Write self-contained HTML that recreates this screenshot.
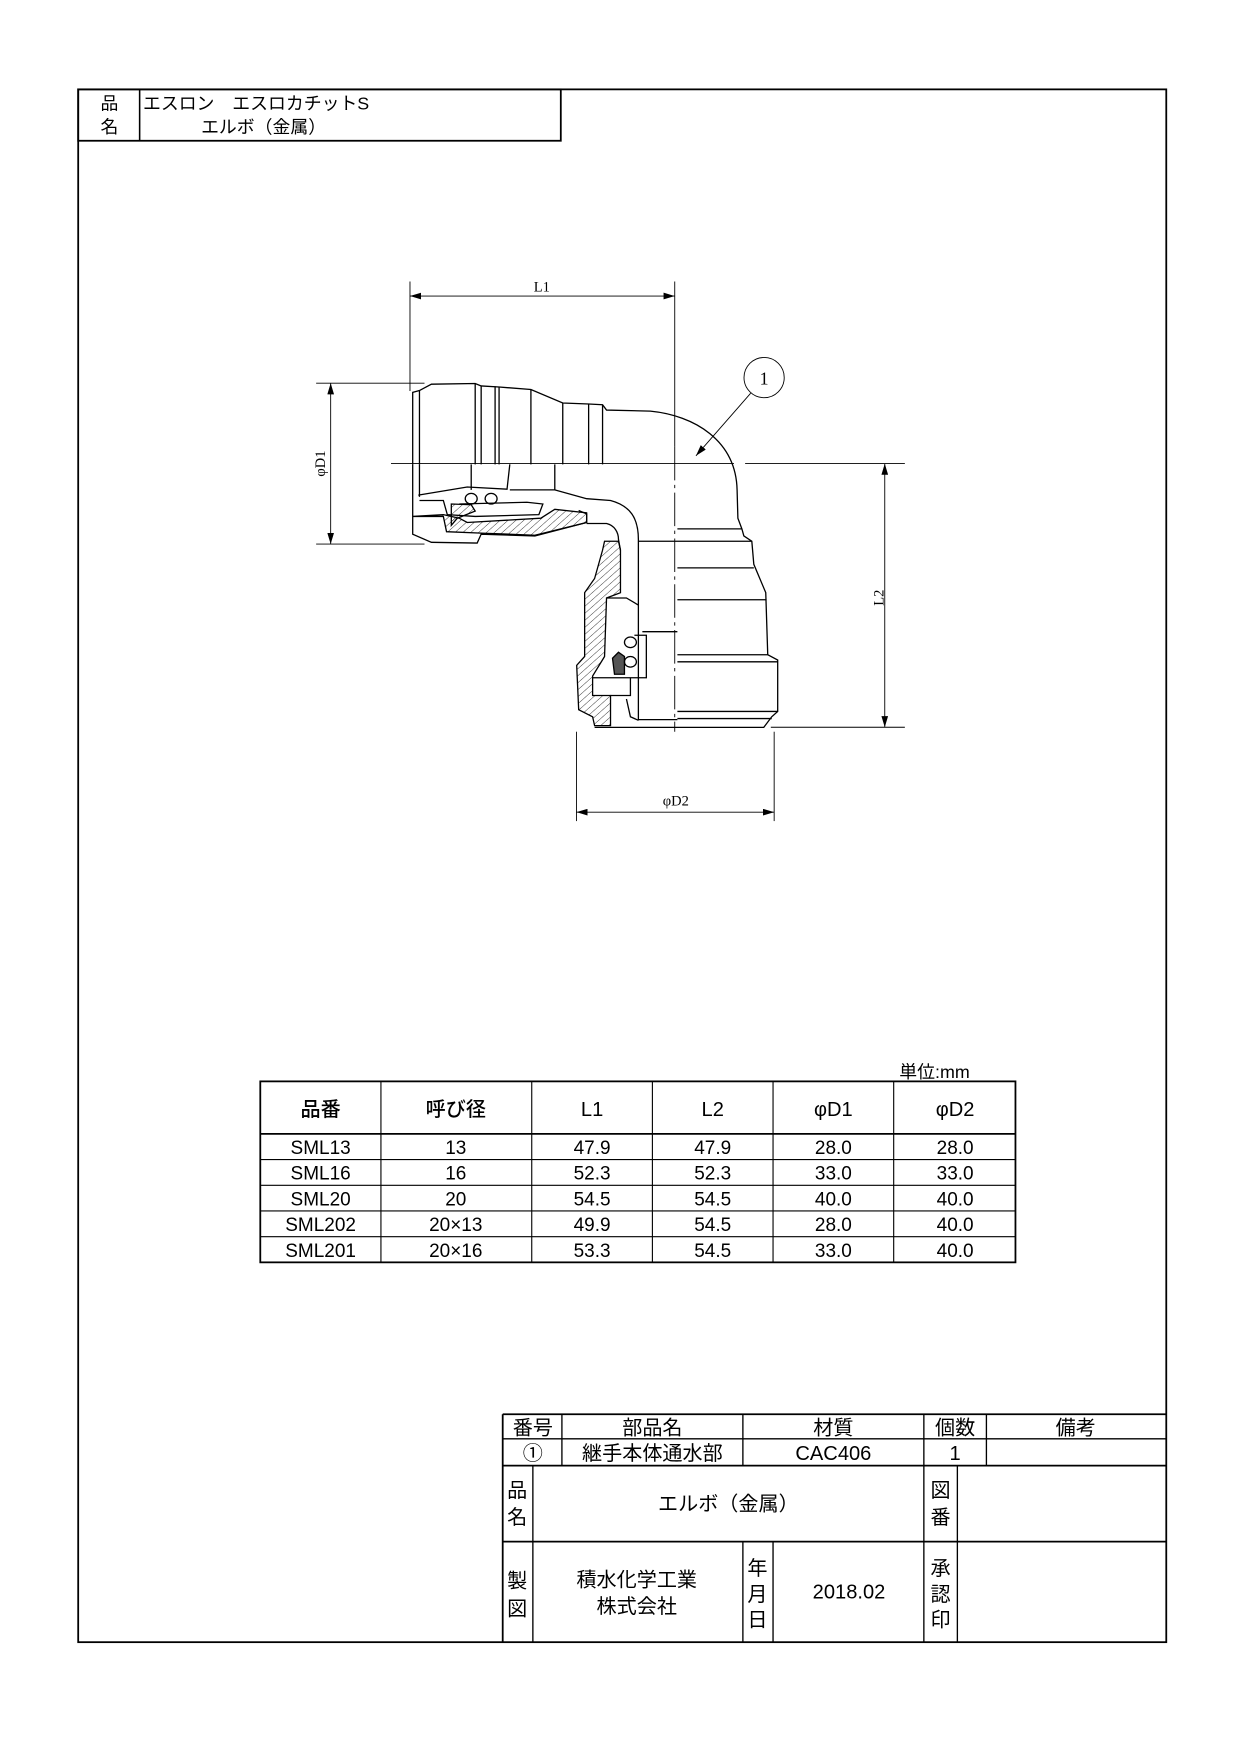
<!DOCTYPE html>
<html><head><meta charset="utf-8"><style>
html,body{margin:0;padding:0;background:#fff}
svg{display:block}
text{font-family:"Liberation Sans","Noto Sans CJK JP",sans-serif;fill:#000}
.s{font-family:"Liberation Serif","Noto Serif CJK SC",serif}
</style></head><body>
<svg width="1240" height="1755" viewBox="0 0 1110 1571" preserveAspectRatio="none" xmlns="http://www.w3.org/2000/svg">
<defs>
<pattern id="h" patternUnits="userSpaceOnUse" width="14" height="14" patternTransform="rotate(45)"><line x1="0" y1="0" x2="0" y2="14" stroke="#000" stroke-width="2"/></pattern>
<marker id="a" markerWidth="10" markerHeight="6" refX="10" refY="3" orient="auto-start-reverse" markerUnits="userSpaceOnUse"><path d="M0,0 L10,3 L0,6 z" fill="#000"/></marker>
</defs>
<rect x="0" y="0" width="1110" height="1571" fill="#fff"/>
<rect x="70" y="80" width="974" height="1390" fill="none" stroke="#000" stroke-width="1.6"/>
<rect x="70" y="80" width="432" height="46" fill="none" stroke="#000" stroke-width="1.6"/>
<line x1="125" y1="80" x2="125" y2="126" stroke="#000" stroke-width="1.4"/>
<text x="98" y="98" font-size="16" text-anchor="middle">品</text>
<text x="98" y="119" font-size="16" text-anchor="middle">名</text>
<text x="128" y="98" font-size="16">エスロン　エスロカチットS</text>
<text x="180" y="119" font-size="16">エルボ（金属）</text>

<g stroke="#000" stroke-width="0.8" fill="none">
<line x1="367" y1="252" x2="367" y2="350"/>
<line x1="604" y1="252" x2="604" y2="400"/>
<line x1="367" y1="265" x2="604" y2="265" marker-start="url(#a)" marker-end="url(#a)"/>
<line x1="283" y1="343" x2="380" y2="343"/>
<line x1="283" y1="487" x2="380" y2="487"/>
<line x1="296" y1="343" x2="296" y2="487" marker-start="url(#a)" marker-end="url(#a)"/>
<line x1="350" y1="415" x2="657" y2="415"/>
<line x1="667" y1="415" x2="810" y2="415"/>
<line x1="690" y1="651" x2="810" y2="651"/>
<line x1="792" y1="415" x2="792" y2="651" marker-start="url(#a)" marker-end="url(#a)"/>
<line x1="516" y1="655" x2="516" y2="735"/>
<line x1="693" y1="655" x2="693" y2="735"/>
<line x1="516" y1="727" x2="693" y2="727" marker-start="url(#a)" marker-end="url(#a)"/>
<circle cx="684" cy="338" r="18"/>
<line x1="672" y1="352" x2="623" y2="408" marker-end="url(#a)"/>
<line x1="604" y1="400" x2="604" y2="655" stroke-dasharray="30 4 3 4"/>
</g>
<text class="s" x="485" y="261" font-size="13" text-anchor="middle">L1</text>
<text class="s" x="0" y="0" font-size="13" text-anchor="middle" transform="translate(291,415) rotate(-90)">φD1</text>
<text class="s" x="0" y="0" font-size="13" text-anchor="middle" transform="translate(791,535) rotate(-90)">L2</text>
<text class="s" x="605" y="721" font-size="13" text-anchor="middle">φD2</text>
<text class="s" x="684" y="344" font-size="16" text-anchor="middle">1</text>

<g transform="translate(268.6,241.7) scale(0.3563,0.3174)" fill="none" stroke="#000" stroke-width="1.3">
<path vector-effect="non-scaling-stroke" d="M283,548 L283,345 L300,340 L330,322 L440,320 L455,327 L500,330 L580,337 L660,375 L725,378 L760,380 L770,395 L880,398 C990,410 1095,480 1098,620 L1100,700 L1110,730 L1115,750 L1135,765 L1140,830 L1170,910 L1175,1085 L1200,1100 L1200,1245 L1185,1260 L1165,1290 L740,1290"/>
<path vector-effect="non-scaling-stroke" d="M300,340V548 M440,320V548 M455,327V548 M490,328V548 M500,330V548 M580,337V548 M660,375V548 M725,378V548 M760,380V548"/>
<path vector-effect="non-scaling-stroke" d="M948,730H1110 M948,765H1135 M948,840H1140 M948,930H1172 M948,1085H1175 M948,1105H1200 M948,1245H1200 M948,1265H1185 M850,765H948 M860,1020H948 M850,1268H948"/>
<path vector-effect="non-scaling-stroke" d="M283,548 L283,745 L330,768 L445,770 L455,745 L590,750 L720,712 L720,688 L700,678"/>
<path vector-effect="non-scaling-stroke" d="M300,548 V640 M297,635 L420,612 L520,618 L527,548 M527,620 L640,620 L720,645 L780,650 C830,665 850,700 850,760 L850,1270 M720,715 L770,715 C790,720 800,740 800,760 L805,790"/>
<path vector-effect="non-scaling-stroke" d="M430,548V620 M640,548V620 M300,650 L360,650 L370,690 L440,695 L600,690 L610,660 L570,655 L400,660"/>
<path vector-effect="non-scaling-stroke" fill="url(#h)" d="M283,695 L360,695 L368,738 L455,742 L590,748 L720,712 L720,685 L640,675 L605,700 L420,712 L400,700 L360,690 Z"/>
<path vector-effect="non-scaling-stroke" fill="url(#h)" d="M380,660 L430,662 L440,680 L395,700 L380,720 Z"/>
<circle vector-effect="non-scaling-stroke" cx="430" cy="645" r="15"/>
<circle vector-effect="non-scaling-stroke" cx="480" cy="645" r="15"/>
<path vector-effect="non-scaling-stroke" fill="url(#h)" d="M765,765 L800,765 L805,790 L805,910 L770,925 L765,1090 L735,1145 L735,1200 L780,1200 L780,1285 L740,1285 L735,1260 L700,1240 L695,1115 L715,1090 L715,910 L740,870 L760,790 Z"/>
<path vector-effect="non-scaling-stroke" d="M770,925 L820,925 L850,945 M735,1150 L830,1150 L830,1200 L780,1200 M820,1210 L830,1260 L850,1270 M840,1030 L870,1030 L870,1150 L830,1150"/>
<path vector-effect="non-scaling-stroke" fill="#555" d="M785,1095 L800,1078 L815,1090 L815,1140 L790,1140 Z"/>
<circle vector-effect="non-scaling-stroke" cx="830" cy="1050" r="15"/>
<circle vector-effect="non-scaling-stroke" cx="830" cy="1105" r="15"/>
</g>

<text x="805" y="965" font-size="16">単位:mm</text>
<g stroke="#000" stroke-width="1.6" fill="none">
<rect x="233" y="968" width="676" height="162"/>
<line x1="233" y1="1015" x2="909" y2="1015"/>
</g>
<g stroke="#000" stroke-width="1" fill="none">
<line x1="233" y1="1038" x2="909" y2="1038"/>
<line x1="233" y1="1061" x2="909" y2="1061"/>
<line x1="233" y1="1084" x2="909" y2="1084"/>
<line x1="233" y1="1107" x2="909" y2="1107"/>
<line x1="341" y1="968" x2="341" y2="1130"/>
<line x1="476" y1="968" x2="476" y2="1130"/>
<line x1="584" y1="968" x2="584" y2="1130"/>
<line x1="692" y1="968" x2="692" y2="1130"/>
<line x1="800" y1="968" x2="800" y2="1130"/>
</g>
<g font-size="18" text-anchor="middle" font-weight="500">
<text x="287" y="999">品番</text><text x="408" y="999">呼び径</text><text x="530" y="999">L1</text><text x="638" y="999">L2</text><text x="746" y="999">φD1</text><text x="855" y="999">φD2</text>
</g>
<g font-size="17" text-anchor="middle">
<text x="287" y="1033">SML13</text><text x="408" y="1033">13</text><text x="530" y="1033">47.9</text><text x="638" y="1033">47.9</text><text x="746" y="1033">28.0</text><text x="855" y="1033">28.0</text>
<text x="287" y="1056">SML16</text><text x="408" y="1056">16</text><text x="530" y="1056">52.3</text><text x="638" y="1056">52.3</text><text x="746" y="1056">33.0</text><text x="855" y="1056">33.0</text>
<text x="287" y="1079">SML20</text><text x="408" y="1079">20</text><text x="530" y="1079">54.5</text><text x="638" y="1079">54.5</text><text x="746" y="1079">40.0</text><text x="855" y="1079">40.0</text>
<text x="287" y="1102">SML202</text><text x="408" y="1102">20×13</text><text x="530" y="1102">49.9</text><text x="638" y="1102">54.5</text><text x="746" y="1102">28.0</text><text x="855" y="1102">40.0</text>
<text x="287" y="1125">SML201</text><text x="408" y="1125">20×16</text><text x="530" y="1125">53.3</text><text x="638" y="1125">54.5</text><text x="746" y="1125">33.0</text><text x="855" y="1125">40.0</text>
</g>

<g stroke="#000" stroke-width="1.6" fill="none">
<line x1="450" y1="1266" x2="1044" y2="1266"/>
<line x1="450" y1="1266" x2="450" y2="1470"/>
<line x1="450" y1="1312" x2="1044" y2="1312"/>
<line x1="450" y1="1380" x2="1044" y2="1380"/>
</g>
<g stroke="#000" stroke-width="1.2" fill="none">
<line x1="450" y1="1288" x2="1044" y2="1288"/>
<line x1="503" y1="1266" x2="503" y2="1312"/>
<line x1="665" y1="1266" x2="665" y2="1312"/>
<line x1="827" y1="1266" x2="827" y2="1470"/>
<line x1="883" y1="1266" x2="883" y2="1312"/>
<line x1="477" y1="1312" x2="477" y2="1470"/>
<line x1="857" y1="1312" x2="857" y2="1470"/>
<line x1="665" y1="1380" x2="665" y2="1470"/>
<line x1="692" y1="1380" x2="692" y2="1470"/>
</g>
<g font-size="18" text-anchor="middle">
<text x="477" y="1284">番号</text><text x="584" y="1284">部品名</text><text x="746" y="1284">材質</text><text x="855" y="1284">個数</text><text x="963" y="1284">備考</text>
<text x="477" y="1307">①</text><text x="584" y="1307">継手本体通水部</text><text x="746" y="1307">CAC406</text><text x="855" y="1307">1</text>
<text x="463" y="1340">品</text><text x="463" y="1364">名</text>
<text x="652" y="1352">エルボ（金属）</text>
<text x="842" y="1340">図</text><text x="842" y="1364">番</text>
<text x="463" y="1421">製</text><text x="463" y="1446">図</text>
<text x="570" y="1420">積水化学工業</text><text x="570" y="1444">株式会社</text>
<text x="678" y="1410">年</text><text x="678" y="1433">月</text><text x="678" y="1456">日</text>
<text x="760" y="1431">2018.02</text>
<text x="842" y="1410">承</text><text x="842" y="1433">認</text><text x="842" y="1456">印</text>
</g>
</svg>
</body></html>
